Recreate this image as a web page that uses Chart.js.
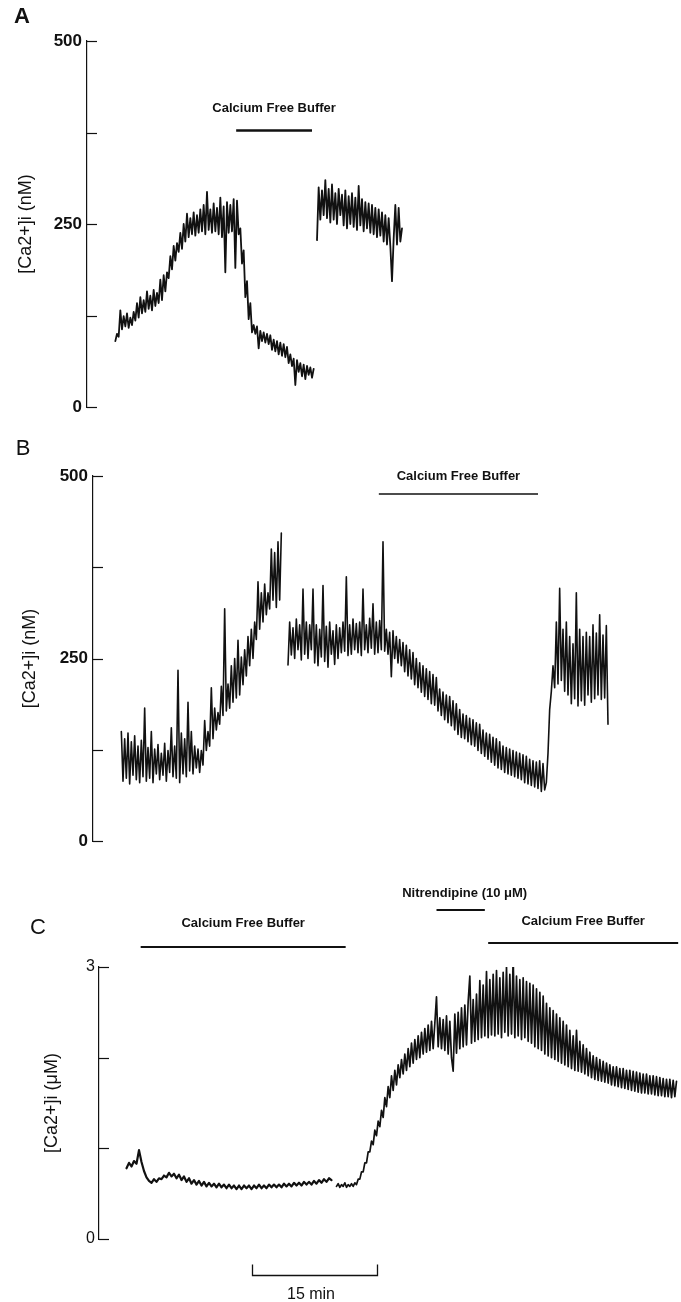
<!DOCTYPE html>
<html>
<head>
<meta charset="utf-8">
<title>[Ca2+]i traces</title>
<script src="https://cdn.jsdelivr.net/npm/chart.js@4.4.1/dist/chart.umd.min.js"></script>
<style>
  html, body { margin: 0; padding: 0; background: #fff; }
  #figure { position: relative; width: 681px; height: 1302px; overflow: hidden; }
  #figure canvas { position: absolute; left: 0; }
</style>
</head>
<body>
<div id="figure">
  <canvas id="panel-a" width="681" height="430" style="top:0px"></canvas>
  <canvas id="panel-b" width="681" height="430" style="top:430px"></canvas>
  <canvas id="panel-c" width="681" height="442" style="top:860px"></canvas>
</div>
<script>
const denseStep = 0.2;
const coarseStep = 0.3;

// y ticks and their labels
const nMTicks = [0, 125, 250, 375, 500];
const nMTickLabels = ["0", "", "250", "", "500"];
const uMTicks = [0, 1, 2, 3];
const uMTickLabels = ["0", "", "", "3"];

// panel A, [Ca2+]i in nM, two pieces of trace
const aStart1 = 3.4;
const aTrace1 = [
  90, 100, 96, 132, 106, 124, 110, 128, 108, 122,
  112, 130, 118, 142, 122, 150, 128, 146, 130, 158,
  134, 152, 132, 160, 138, 156, 142, 174, 146, 180,
  158, 184, 176, 206, 188, 220, 200, 224, 212, 238,
  216, 250, 226, 264, 232, 258, 236, 266, 234, 262,
  238, 270, 240, 276, 236, 294, 242, 270, 238, 278,
  240, 272, 236, 286, 232, 274, 184, 280, 238, 276,
  240, 284, 190, 282, 236, 244, 196, 214, 150, 172,
  120, 142, 102, 112, 100, 110, 80, 104, 90, 102,
  88, 100, 86, 98, 78, 92, 76, 90, 72, 88,
  70, 86, 68, 82, 60, 72, 56, 66, 30, 64,
  48, 60, 42, 58, 38, 56, 44, 54, 40, 52
];
const aStart2 = 27.6;
const aTrace2 = [
  228, 300, 256, 296, 262, 310, 258, 298, 252, 304,
  256, 292, 250, 298, 262, 290, 248, 296, 244, 288,
  250, 292, 246, 286, 242, 302, 248, 284, 240, 280,
  244, 278, 238, 276, 236, 272, 232, 270, 234, 266,
  226, 262, 222, 258, 220, 172, 230, 276, 222, 272,
  226, 244
];
const aBufferTimes = [17.9, 27.0];

// panel B, [Ca2+]i in nM
const bStart1 = 3.4;
const bTrace1 = [
  150, 82, 140, 86, 148, 78, 136, 90, 144, 84,
  130, 80, 138, 88, 182, 82, 128, 86, 150, 80,
  126, 92, 132, 84, 120, 90, 134, 82, 124, 94,
  155, 88, 130, 86, 234, 80, 148, 92, 140, 88,
  190, 96, 150, 92, 130, 100, 126, 94, 124, 104,
  165, 124, 150, 130, 210, 140, 182, 152, 176, 160,
  212, 172, 318, 178, 215, 182, 240, 190, 250, 196,
  275, 200, 252, 214, 262, 226, 280, 240, 290, 250,
  300, 276, 355, 290, 340, 300, 352, 310, 340, 318,
  400, 330, 395, 320, 410, 330, 422
];
const bStart2 = 23.4;
const bTrace2 = [
  241, 300, 255, 292, 250, 304, 262, 296, 248, 345,
  256, 300, 250, 296, 262, 345, 244, 296, 240, 290,
  252, 350, 246, 294, 238, 300, 256, 288, 242, 296,
  250, 292, 258, 300, 260, 362, 254, 296, 256, 304,
  262, 298, 258, 300, 254, 345, 262, 296, 258, 305,
  264, 325, 256, 300, 258, 302, 262, 410, 260, 290,
  256, 286, 225, 288, 250, 280, 244, 276, 240, 272,
  232, 268, 226, 262, 222, 258, 214, 250, 210, 244,
  204, 240, 198, 236, 194, 232, 188, 228, 186, 224,
  178, 208, 172, 204, 166, 200, 162, 198, 158, 192,
  152, 188, 146, 180, 142, 174, 140, 172, 136, 168,
  132, 166, 130, 162, 124, 160, 120, 152, 116, 148,
  112, 146, 108, 142, 104, 140, 100, 136, 98, 130,
  94, 128, 92, 126, 90, 124, 88, 122, 86, 120,
  84, 118, 80, 116, 78, 112, 76, 110, 74, 108,
  72, 110, 68, 106, 70, 80, 120, 180, 205, 240,
  210, 300, 215, 346, 220, 290, 205, 300, 200, 280,
  188, 270, 195, 340, 185, 290, 192, 280, 186, 286,
  200, 280, 190, 296, 195, 285, 200, 310, 194, 282,
  196, 295, 160
];
const bBufferTimes = [34.3, 53.4];

// panel C, [Ca2+]i in uM
const cStart1 = 3.3;
const cTrace1 = [
  0.78, 0.84, 0.80, 0.86, 0.83, 0.98, 0.85, 0.75, 0.68, 0.64,
  0.62, 0.66, 0.63, 0.67, 0.66, 0.70, 0.68, 0.73, 0.69, 0.72,
  0.67, 0.71, 0.65, 0.69, 0.63, 0.67, 0.61, 0.65, 0.60, 0.64,
  0.59, 0.63, 0.58, 0.62, 0.58, 0.61, 0.57, 0.61, 0.57, 0.60,
  0.56, 0.60, 0.56, 0.59, 0.55, 0.59, 0.55, 0.59, 0.56, 0.59,
  0.55, 0.59, 0.56, 0.60, 0.56, 0.59, 0.56, 0.60, 0.57, 0.60,
  0.57, 0.60, 0.57, 0.61, 0.58, 0.61, 0.58, 0.62, 0.59, 0.62,
  0.59, 0.63, 0.60, 0.63, 0.60, 0.64, 0.61, 0.65, 0.62, 0.66,
  0.63, 0.67, 0.65
];
const cStart2 = 28.5;
const cTrace2 = [
  0.58, 0.61, 0.57, 0.60, 0.58, 0.62, 0.57, 0.60, 0.58, 0.61,
  0.58, 0.62, 0.60, 0.66, 0.66, 0.74, 0.74, 0.84, 0.84, 0.96,
  0.96, 1.08, 1.04, 1.20, 1.14, 1.30, 1.24, 1.42, 1.34, 1.56,
  1.46, 1.68, 1.56, 1.80, 1.64, 1.86, 1.70, 1.92, 1.78, 1.98,
  1.82, 2.04, 1.86, 2.10, 1.90, 2.16, 1.94, 2.20, 1.98, 2.24,
  2.00, 2.28, 2.04, 2.32, 2.06, 2.36, 2.08, 2.40, 2.10, 2.38,
  2.67, 2.12, 2.44, 2.10, 2.42, 2.08, 2.46, 2.04, 2.40, 2.00,
  1.85, 2.48, 2.05, 2.50, 2.10, 2.55, 2.12, 2.58, 2.14, 2.62,
  2.90, 2.16, 2.64, 2.18, 2.70, 2.20, 2.85, 2.22, 2.80, 2.24,
  2.95, 2.22, 2.86, 2.25, 2.92, 2.24, 2.96, 2.26, 2.88, 2.22,
  2.94, 2.28, 3.00, 2.24, 2.92, 2.26, 3.10, 2.22, 2.90, 2.24,
  2.86, 2.20, 2.88, 2.22, 2.84, 2.18, 2.82, 2.16, 2.80, 2.12,
  2.76, 2.10, 2.72, 2.08, 2.68, 2.04, 2.60, 2.02, 2.55, 2.00,
  2.52, 1.98, 2.48, 1.96, 2.44, 1.94, 2.40, 1.92, 2.36, 1.90,
  2.30, 1.88, 2.24, 1.86, 2.30, 1.85, 2.18, 1.84, 2.14, 1.82,
  2.10, 1.80, 2.06, 1.78, 2.02, 1.76, 2.00, 1.75, 1.98, 1.74,
  1.96, 1.73, 1.94, 1.72, 1.92, 1.70, 1.90, 1.69, 1.90, 1.68,
  1.88, 1.67, 1.88, 1.66, 1.86, 1.65, 1.86, 1.64, 1.85, 1.63,
  1.84, 1.62, 1.83, 1.61, 1.82, 1.61, 1.82, 1.60, 1.80, 1.60,
  1.80, 1.59, 1.79, 1.58, 1.78, 1.58, 1.77, 1.57, 1.76, 1.57,
  1.76, 1.56, 1.75, 1.57, 1.74
];
const cBufferTimes1 = [5.0, 29.6];
const cNitrendipineTimes = [40.5, 46.3];
const cBufferTimes2 = [46.7, 69.5];
const scaleBarMinutes = 15;

const INK = "#111";
const FONT = "'Liberation Sans', Arial, Helvetica, sans-serif";
const PX_PER_MIN = 125 / 15;
const CANVAS_W = 681;

// draws inward ticks, panel letter, treatment bars and the time scale bar
const figurePlugin = {
  id: "figure",
  afterDraw(chart, args, opts) {
    const { ctx, chartArea } = chart;
    const xs = chart.scales.x;
    const ys = chart.scales.y;
    ctx.save();
    ctx.strokeStyle = INK;
    ctx.fillStyle = INK;

    ctx.lineWidth = 1.2;
    opts.tickValues.forEach((v) => {
      const py = Math.round(ys.getPixelForValue(v)) + 0.5;
      ctx.beginPath();
      ctx.moveTo(chartArea.left, py);
      ctx.lineTo(chartArea.left + 10, py);
      ctx.stroke();
    });

    ctx.font = opts.letterFont;
    ctx.textAlign = "center";
    ctx.textBaseline = "middle";
    ctx.fillText(opts.letter, opts.letterX, opts.letterY);

    ctx.font = "bold 13px " + FONT;
    opts.bars.forEach((b) => {
      const x0 = xs.getPixelForValue(b.times[0]);
      const x1 = xs.getPixelForValue(b.times[1]);
      ctx.lineWidth = b.width;
      ctx.beginPath();
      ctx.moveTo(x0, b.barY);
      ctx.lineTo(x1, b.barY);
      ctx.stroke();
      ctx.fillText(b.text, (x0 + x1) / 2 + (b.dx || 0), b.textY);
    });

    if (opts.scaleBar) {
      const sb = opts.scaleBar;
      const x0 = Math.round(xs.getPixelForValue(sb.start)) + 0.5;
      const x1 = Math.round(xs.getPixelForValue(sb.start + sb.minutes)) + 0.5;
      ctx.lineWidth = 1.3;
      ctx.beginPath();
      ctx.moveTo(x0, sb.y - 11);
      ctx.lineTo(x0, sb.y);
      ctx.lineTo(x1, sb.y);
      ctx.lineTo(x1, sb.y - 11);
      ctx.stroke();
      ctx.font = "16px " + FONT;
      ctx.fillText(sb.minutes + " min", (x0 + x1) / 2 - 4, sb.textY);
    }
    ctx.restore();
  },
};

function traceDataset(start, step, values, width) {
  return {
    data: values.map((v, i) => ({ x: start + i * step, y: v })),
    borderColor: INK,
    borderWidth: width,
    borderJoinStyle: "round",
    borderCapStyle: "round",
    pointRadius: 0,
    tension: 0,
    fill: false,
  };
}

function buildPanel(canvasId, panel) {
  const ctx = document.getElementById(canvasId).getContext("2d");
  return new Chart(ctx, {
    type: "line",
    data: { datasets: panel.datasets },
    options: {
      responsive: false,
      animation: false,
      devicePixelRatio: 1,
      layout: { padding: { left: 0, right: 0, top: panel.top, bottom: panel.bottom } },
      plugins: {
        legend: { display: false },
        tooltip: { enabled: false },
        figure: panel.figure,
      },
      scales: {
        x: {
          type: "linear",
          display: false,
          min: 0,
          max: (CANVAS_W - panel.axisX) / PX_PER_MIN,
        },
        y: {
          min: panel.ticks[0],
          max: panel.ticks[panel.ticks.length - 1],
          afterFit: (scale) => {
            scale.width = panel.axisX;
          },
          afterBuildTicks: (scale) => {
            scale.ticks = panel.ticks.map((v) => ({ value: v }));
          },
          grid: { display: false, drawTicks: false },
          border: { display: true, color: INK, width: 1.2 },
          ticks: {
            autoSkip: false,
            padding: panel.labelPad,
            color: INK,
            font: panel.tickFont,
            callback: (value) => panel.tickLabels[panel.ticks.indexOf(value)],
          },
          title: {
            display: true,
            text: panel.title,
            color: INK,
            font: { family: FONT, size: 18 },
            padding: { top: panel.titlePad, bottom: 0 },
          },
        },
      },
    },
    plugins: [figurePlugin],
  });
}

document.addEventListener("DOMContentLoaded", () => {
  buildPanel("panel-a", {
    datasets: [
      traceDataset(aStart1, denseStep, aTrace1, 1.8),
      traceDataset(aStart2, denseStep, aTrace2, 1.8),
    ],
    axisX: 87,
    top: 41,
    bottom: 23,
    ticks: nMTicks,
    tickLabels: nMTickLabels,
    tickFont: { family: FONT, size: 17, weight: "bold" },
    labelPad: 5,
    title: "[Ca2+]i (nM)",
    titlePad: 15,
    figure: {
      tickValues: nMTicks,
      letter: "A",
      letterFont: "bold 22px " + FONT,
      letterX: 22,
      letterY: 17,
      bars: [
        { times: aBufferTimes, text: "Calcium Free Buffer", barY: 130.5, textY: 108, width: 2.5 },
      ],
    },
  });

  buildPanel("panel-b", {
    datasets: [
      traceDataset(bStart1, denseStep, bTrace1, 1.6),
      traceDataset(bStart2, denseStep, bTrace2, 1.6),
    ],
    axisX: 93,
    top: 46,
    bottom: 19,
    ticks: nMTicks,
    tickLabels: nMTickLabels,
    tickFont: { family: FONT, size: 17, weight: "bold" },
    labelPad: 5,
    title: "[Ca2+]i (nM)",
    titlePad: 19,
    figure: {
      tickValues: nMTicks,
      letter: "B",
      letterFont: "22px " + FONT,
      letterX: 23,
      letterY: 19,
      bars: [
        { times: bBufferTimes, text: "Calcium Free Buffer", barY: 64, textY: 46, width: 1.6 },
      ],
    },
  });

  buildPanel("panel-c", {
    datasets: [
      traceDataset(cStart1, coarseStep, cTrace1, 2.2),
      traceDataset(cStart2, denseStep, cTrace2, 1.7),
    ],
    axisX: 99,
    top: 107,
    bottom: 63,
    ticks: uMTicks,
    tickLabels: uMTickLabels,
    tickFont: { family: FONT, size: 16 },
    labelPad: 4,
    title: "[Ca2+]i (\u03bcM)",
    titlePad: 41,
    figure: {
      tickValues: uMTicks,
      letter: "C",
      letterFont: "22px " + FONT,
      letterX: 38,
      letterY: 68,
      bars: [
        { times: cBufferTimes1, text: "Calcium Free Buffer", barY: 87, textY: 63, width: 2 },
        { times: cNitrendipineTimes, text: "Nitrendipine (10 \u03bcM)", barY: 50, textY: 33, width: 2, dx: 4 },
        { times: cBufferTimes2, text: "Calcium Free Buffer", barY: 83, textY: 61, width: 2 },
      ],
      scaleBar: { start: 18.4, minutes: scaleBarMinutes, y: 415.5, textY: 435 },
    },
  });
});
</script>
</body>
</html>
